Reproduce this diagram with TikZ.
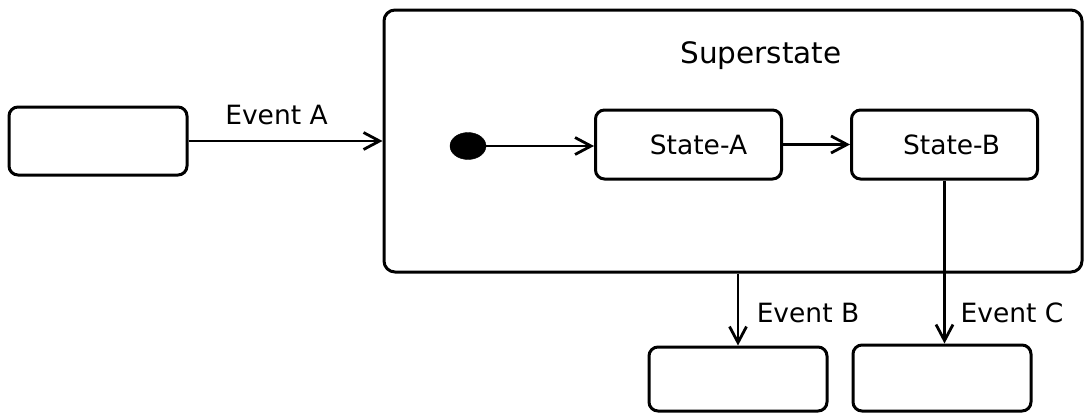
\documentclass[tikz,border=0pt]{standalone}
\usepackage{fontspec}
\setmainfont{DejaVu Sans}
\usetikzlibrary{arrows.meta,shapes.geometric}
\begin{document}
\begin{tikzpicture}[x=1pt,y=-1pt,
  box/.style={draw, line width=3pt, rounded corners=9pt, inner sep=0pt},
  trans/.style={line width=2.8pt, -{Straight Barb[length=16pt,width=17pt,line width=2.8pt]}},
  lbl/.style={inner sep=0pt, anchor=base, font=\fontsize{26.5}{31}\selectfont}]
\useasboundingbox (0,0) rectangle (1084,413);
% outer states
\node[box, minimum width=178pt, minimum height=68pt] (left) at (98,141) {};
\node[box, rounded corners=11pt, minimum width=698pt, minimum height=262pt] (super) at (733,141) {};
\node[lbl, font=\fontsize{29.5}{34}\selectfont] (supname) at (761,63) {Superstate};
% nested states
\node[draw, fill=black, ellipse, inner sep=0pt, minimum width=36pt, minimum height=27pt] (init) at (468,146) {};
\node[box, minimum width=186pt, minimum height=69pt] (sA) at (688.5,144.5) {};
\node[lbl] (sAname) at (698.5,154) {State-A};
\node[box, minimum width=186pt, minimum height=69pt] (sB) at (944.5,144.5) {};
\node[lbl] (sBname) at (951.5,154) {State-B};
% target states
\node[box, minimum width=178pt, minimum height=64pt] (bB) at (738,379) {};
\node[box, minimum width=178pt, minimum height=66pt] (bC) at (942,378) {};
% transitions
\draw[trans] (left) -- (super);
\node[lbl] (evA) at (276.5,124) {Event A};
\draw[trans] (init.east) -- (init.east -| sA.west);
\draw[trans] (sA) -- (sB);
\draw[trans] (bB.north |- super.south) -- (bB.north);
\node[lbl] (evB) at (808,322) {Event B};
\draw[trans] (sB.south) -- (sB.south |- bC.north);
\node[lbl] (evC) at (1012,322) {Event C};
\end{tikzpicture}
\end{document}
